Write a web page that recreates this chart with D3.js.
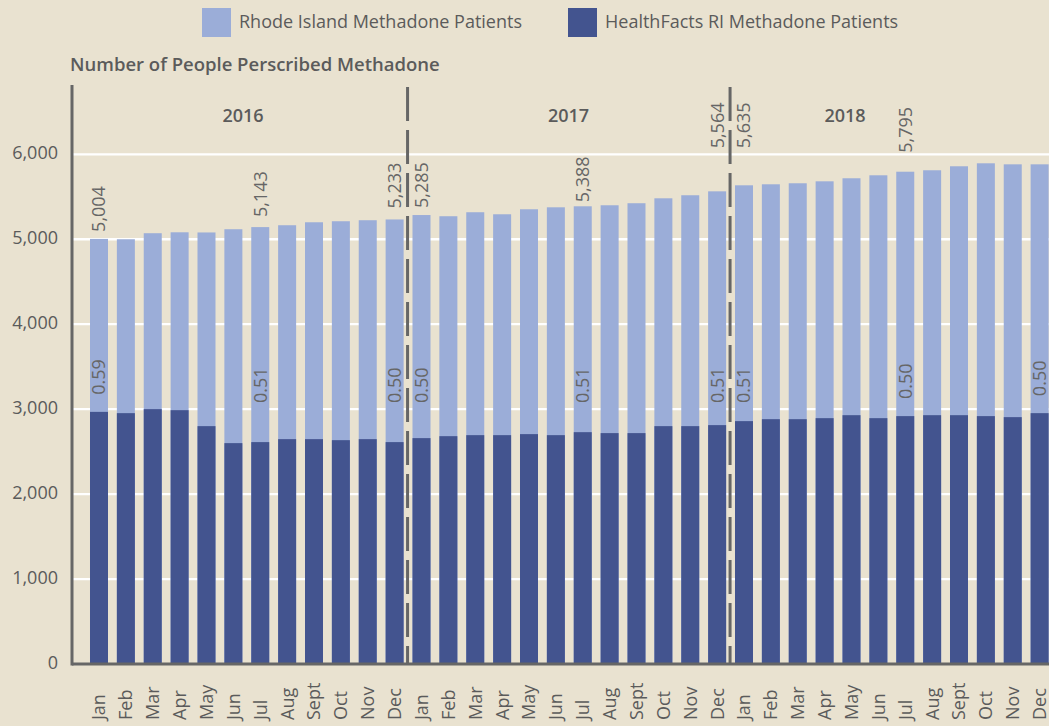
<!DOCTYPE html>
<html>
<head>
<meta charset="utf-8">
<script src="https://cdn.jsdelivr.net/npm/d3@7"></script>
<style>
  body { margin: 0; background: #e9e2d0; }
  svg { display: block; font-family: 'Open Sans', sans-serif; }
</style>
</head>
<body>
<svg width="1049" height="726"></svg>
<script>
// data
const months = ['Jan', 'Feb', 'Mar', 'Apr', 'May', 'Jun', 'Jul', 'Aug', 'Sept', 'Oct', 'Nov', 'Dec'];
const years = ['2016', '2017', '2018'];

const riPatients = [
  5004, 5000, 5071, 5082, 5080, 5118, 5143, 5165, 5200, 5212, 5224, 5233,
  5285, 5271, 5318, 5294, 5353, 5376, 5388, 5400, 5424, 5482, 5518, 5564,
  5635, 5647, 5659, 5682, 5718, 5753, 5795, 5812, 5859, 5894, 5882, 5882
];
const hfPatients = [
  2968, 2953, 3000, 2988, 2800, 2600, 2612, 2647, 2647, 2635, 2647, 2612,
  2659, 2682, 2694, 2694, 2706, 2694, 2729, 2718, 2718, 2800, 2800, 2812,
  2859, 2882, 2882, 2894, 2929, 2894, 2918, 2929, 2929, 2918, 2906, 2953
];

// annotated bars: index, share label
const totalLabelIdx = [0, 6, 11, 12, 18, 23, 24, 30];
const shareLabels = [
  { i: 0, text: '0.59' }, { i: 6, text: '0.51' }, { i: 11, text: '0.50' },
  { i: 12, text: '0.50' }, { i: 18, text: '0.51' }, { i: 23, text: '0.51' },
  { i: 24, text: '0.51' }, { i: 30, text: '0.50' }, { i: 35, text: '0.50' }
];
const yTicks = [0, 1000, 2000, 3000, 4000, 5000, 6000];

// label layout (pixels above bar top)
const totalLabelGap = [7, 10, 11, 7, 4, 43, 37, 19];
const yearLabelAt = [5.36, 17.47, 27.76];

const data = riPatients.map((v, i) => ({
  key: years[Math.floor(i / 12)] + '-' + months[i % 12],
  month: months[i % 12],
  total: v,
  hf: hfPatients[i]
}));

const W = 1049, H = 726;
const AXIS_X = 72;
const LIGHT = '#9badd8', DARK = '#43548f', INK = '#5b5b5b', AXIS = '#666666';

const svg = d3.select('svg');
svg.append('rect').attr('width', W).attr('height', H).attr('fill', '#e9e2d0');

const x = d3.scaleBand()
  .domain(data.map((d) => d.key))
  .range([85.56, 85.56 + 36 * 26.875])
  .paddingInner(0.33)
  .paddingOuter(0.165);
const y = d3.scaleLinear().domain([0, 6000]).range([664, 154.3]);
const cx = (i) => x(data[i].key) + x.bandwidth() / 2;

// gridlines
svg.append('g')
  .selectAll('line')
  .data(yTicks.slice(1))
  .join('line')
  .attr('x1', AXIS_X).attr('x2', W)
  .attr('y1', (d) => y(d)).attr('y2', (d) => y(d))
  .attr('stroke', '#ffffff')
  .attr('stroke-width', 2.3);

// y tick labels
svg.append('g')
  .selectAll('text')
  .data(yTicks)
  .join('text')
  .attr('x', 58)
  .attr('y', (d) => y(d) + 5)
  .attr('text-anchor', 'end')
  .attr('fill', INK)
  .style('font-size', '18px')
  .text(d3.format(','));

// bars
svg.append('g')
  .selectAll('rect')
  .data(data)
  .join('rect')
  .attr('x', (d) => x(d.key))
  .attr('width', x.bandwidth())
  .attr('y', (d) => y(d.total))
  .attr('height', (d) => y(0) - y(d.total))
  .attr('fill', LIGHT);

svg.append('g')
  .selectAll('rect')
  .data(data)
  .join('rect')
  .attr('x', (d) => x(d.key))
  .attr('width', x.bandwidth())
  .attr('y', (d) => y(d.hf))
  .attr('height', (d) => y(0) - y(d.hf))
  .attr('fill', DARK);

// year dividers
const dividers = [12, 24].map((i) => (x(data[i - 1].key) + x.bandwidth() + x(data[i].key)) / 2 - 0.5);
svg.append('g')
  .selectAll('line')
  .data(dividers)
  .join('line')
  .attr('x1', (d) => d).attr('x2', (d) => d)
  .attr('y1', 87).attr('y2', y(0))
  .attr('stroke', AXIS)
  .attr('stroke-width', 3)
  .attr('stroke-dasharray', '34 9');

// axes lines
svg.append('line')
  .attr('x1', AXIS_X).attr('x2', AXIS_X)
  .attr('y1', 85).attr('y2', y(0) + 1.5)
  .attr('stroke', AXIS).attr('stroke-width', 3);
svg.append('line')
  .attr('x1', AXIS_X).attr('x2', W)
  .attr('y1', y(0)).attr('y2', y(0))
  .attr('stroke', AXIS).attr('stroke-width', 3);

// year labels
svg.append('g')
  .selectAll('text')
  .data(years)
  .join('text')
  .attr('x', (d, i) => cx(0) + yearLabelAt[i] * x.step())
  .attr('y', 122)
  .attr('text-anchor', 'middle')
  .attr('fill', INK)
  .style('font-size', '18px')
  .style('font-weight', 600)
  .text((d) => d);

// total labels above bars
svg.append('g')
  .selectAll('text')
  .data(totalLabelIdx)
  .join('text')
  .attr('transform', (d, k) => `translate(${cx(d) + 6.5}, ${y(data[d].total) - totalLabelGap[k]}) rotate(-90)`)
  .attr('fill', AXIS)
  .style('font-size', '18px')
  .text((d) => d3.format(',')(data[d].total));

// share labels inside light bars
svg.append('g')
  .selectAll('text')
  .data(shareLabels)
  .join('text')
  .attr('transform', (d) => `translate(${cx(d.i) + 6.5}, ${Math.min(403, y(data[d.i].hf) - 17)}) rotate(-90)`)
  .attr('fill', AXIS)
  .style('font-size', '18px')
  .text((d) => d.text);

// month labels
svg.append('g')
  .selectAll('text')
  .data(data)
  .join('text')
  .attr('transform', (d, i) => `translate(${cx(i) + 6.5}, 720) rotate(-90)`)
  .attr('fill', INK)
  .style('font-size', '18px')
  .text((d) => d.month);

// title
svg.append('text')
  .attr('x', 70)
  .attr('y', 71)
  .attr('fill', INK)
  .style('font-size', '18.5px')
  .style('font-weight', 600)
  .text('Number of People Perscribed Methadone');

// legend
const legend = [
  { label: 'Rhode Island Methadone Patients', color: LIGHT, x: 202 },
  { label: 'HealthFacts RI Methadone Patients', color: DARK, x: 568 }
];
const lg = svg.append('g')
  .selectAll('g')
  .data(legend)
  .join('g')
  .attr('transform', (d) => `translate(${d.x}, 8)`);
lg.append('rect')
  .attr('width', 29).attr('height', 29)
  .attr('fill', (d) => d.color);
lg.append('text')
  .attr('x', 37)
  .attr('y', 20)
  .attr('fill', INK)
  .style('font-size', '18px')
  .text((d) => d.label);
</script>
</body>
</html>
